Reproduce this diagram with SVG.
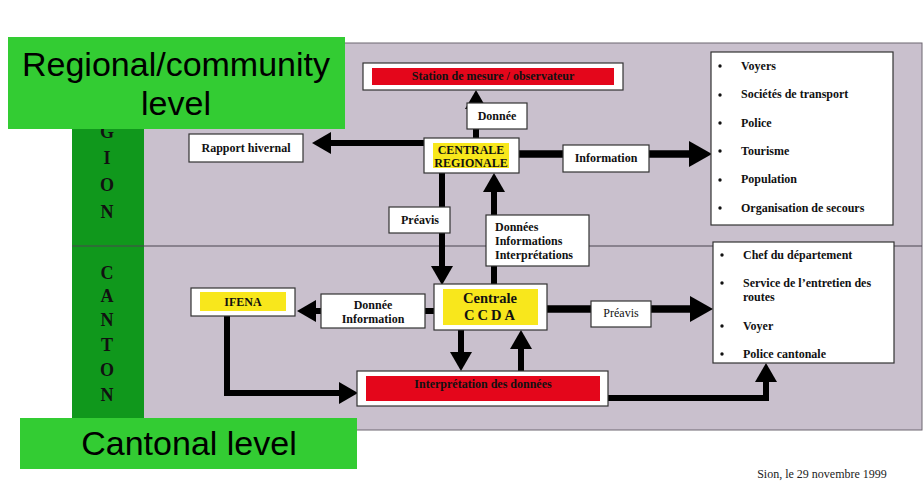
<svg xmlns="http://www.w3.org/2000/svg" width="924" height="481" viewBox="0 0 924 481">
<defs>
<marker id="ah" markerUnits="userSpaceOnUse" markerWidth="19" markerHeight="22" refX="0" refY="11" orient="auto" overflow="visible">
<path d="M0,0 L19,11 L0,22 Z" fill="#000"/>
</marker>
<marker id="ahL" markerUnits="userSpaceOnUse" markerWidth="23" markerHeight="26" refX="0" refY="13" orient="auto" overflow="visible">
<path d="M0,0 L23,13 L0,26 Z" fill="#000"/>
</marker>
<style>
.box{fill:#fff;stroke:#333;stroke-width:1.2}
.t{font-family:"Liberation Serif","Times New Roman",serif;font-weight:bold;font-size:12px;fill:#111}
.c{text-anchor:middle}
.ln{fill:none;stroke:#000;stroke-width:6}
.lnL{fill:none;stroke:#000;stroke-width:7.5}
.red{fill:#e4061b}
.yel{fill:#f8e71c}
.lab{font-family:"Liberation Sans",Arial,sans-serif;font-size:34px;fill:#000;text-anchor:middle}
.vl{font-family:"Liberation Serif","Times New Roman",serif;font-weight:bold;font-size:18px;fill:#111;text-anchor:middle}
</style>
</defs>
<rect width="924" height="481" fill="#fff"/>
<!-- background panel -->
<g id="panel">
<rect x="143" y="43" width="779" height="387" fill="#c9c0cd" stroke="#6d6670" stroke-width="1"/>
<rect x="72" y="43" width="72" height="387" fill="#10981c"/>
<line x1="72" y1="246" x2="922" y2="246" stroke="#4a4450" stroke-width="1.2"/>
<text class="vl" x="107" y="138">G</text>
<text class="vl" x="107" y="164">I</text>
<text class="vl" x="107" y="191">O</text>
<text class="vl" x="107" y="218">N</text>
<text class="vl" x="107" y="279">C</text>
<text class="vl" x="107" y="302">A</text>
<text class="vl" x="107" y="326">N</text>
<text class="vl" x="107" y="351">T</text>
<text class="vl" x="107" y="376">O</text>
<text class="vl" x="107" y="401">N</text>
</g>
<!-- connectors -->
<g id="connectors">
<line class="ln" x1="476" y1="140" x2="476" y2="109" marker-end="url(#ah)"/>
<line class="ln" x1="426" y1="143" x2="331" y2="143" marker-end="url(#ah)"/>
<line class="lnL" x1="519" y1="154" x2="689" y2="154" marker-end="url(#ahL)"/>
<line class="ln" x1="442" y1="173" x2="442" y2="266" marker-end="url(#ah)"/>
<line class="ln" x1="494" y1="284" x2="494" y2="192" marker-end="url(#ah)"/>
<line class="ln" x1="434" y1="311" x2="316" y2="311" marker-end="url(#ah)"/>
<line class="lnL" x1="547" y1="309" x2="690" y2="309" marker-end="url(#ahL)"/>
<line class="ln" x1="461" y1="330" x2="461" y2="352" marker-end="url(#ah)"/>
<line class="ln" x1="521" y1="371" x2="521" y2="349" marker-end="url(#ah)"/>
<polyline class="ln" points="227,316 227,393 339,393" marker-end="url(#ah)"/>
<polyline class="ln" points="608,398 766,398 766,382" marker-end="url(#ah)"/>
</g>
<!-- nodes -->
<g id="station">
<rect class="box" x="363" y="63" width="260" height="27"/>
<rect class="red" x="372" y="68" width="242" height="17"/>
<text class="t c" x="493" y="80" fill="#2a0000">Station de mesure / observateur</text>
</g>
<g id="donnee-top">
<rect class="box" x="467" y="103" width="60" height="26"/>
<text class="t c" x="497" y="120">Donnée</text>
</g>
<g id="centrale-regionale">
<rect class="box" x="424" y="138" width="95" height="35"/>
<rect class="yel" x="433" y="143" width="76" height="25"/>
<text class="t c" x="471" y="154">CENTRALE</text>
<text class="t c" x="471" y="167">REGIONALE</text>
</g>
<g id="rapport">
<rect class="box" x="189" y="134" width="114" height="28"/>
<text class="t c" x="246" y="152">Rapport hivernal</text>
</g>
<g id="information">
<rect class="box" x="563" y="145" width="86" height="27"/>
<text class="t c" x="606" y="162">Information</text>
</g>
<g id="list-region">
<rect class="box" x="711" y="52" width="182" height="173"/>
<g fill="#111"><circle cx="720" cy="66" r="1.7"/><circle cx="720" cy="95" r="1.7"/><circle cx="720" cy="123" r="1.7"/><circle cx="720" cy="151" r="1.7"/><circle cx="720" cy="180" r="1.7"/><circle cx="720" cy="208" r="1.7"/></g>
<text class="t" x="741" y="70">Voyers</text>
<text class="t" x="741" y="98">Sociétés de transport</text>
<text class="t" x="741" y="127">Police</text>
<text class="t" x="741" y="155">Tourisme</text>
<text class="t" x="741" y="183">Population</text>
<text class="t" x="741" y="212">Organisation de secours</text>
</g>
<g id="preavis-top">
<rect class="box" x="389" y="207" width="61" height="26"/>
<text class="t c" x="420" y="224">Préavis</text>
</g>
<g id="donnees-info">
<rect class="box" x="486" y="215" width="103" height="51"/>
<text class="t" x="495" y="231">Données</text>
<text class="t" x="495" y="245">Informations</text>
<text class="t" x="495" y="259">Interprétations</text>
</g>
<g id="centrale-ccda">
<rect class="box" x="434" y="284" width="113" height="46"/>
<rect class="yel" x="443" y="289" width="95" height="36"/>
<text class="t c" x="490" y="303" style="font-size:14.5px">Centrale</text>
<text class="t c" x="491" y="320" style="font-size:14.5px;letter-spacing:3px">CCDA</text>
</g>
<g id="donnee-information">
<rect class="box" x="321" y="294" width="104" height="34"/>
<text class="t c" x="373" y="309">Donnée</text>
<text class="t c" x="373" y="323">Information</text>
</g>
<g id="ifena">
<rect class="box" x="191" y="288" width="104" height="28"/>
<rect class="yel" x="200" y="292" width="86" height="19"/>
<text class="t c" x="243" y="306">IFENA</text>
</g>
<g id="preavis-bottom">
<rect class="box" x="591" y="301" width="60" height="26"/>
<text class="t c" x="621" y="317" style="font-weight:normal">Préavis</text>
</g>
<g id="interpretation">
<rect class="box" x="357" y="371" width="251" height="35"/>
<rect class="red" x="366" y="376" width="234" height="25"/>
<text class="t c" x="483" y="388" fill="#2a0000">Interprétation des données</text>
</g>
<g id="list-canton">
<rect class="box" x="713" y="242" width="181" height="121"/>
<g fill="#111"><circle cx="722" cy="255" r="1.7"/><circle cx="722" cy="283" r="1.7"/><circle cx="722" cy="326" r="1.7"/><circle cx="722" cy="354" r="1.7"/></g>
<text class="t" x="743" y="259">Chef du département</text>
<text class="t" x="743" y="287">Service de l’entretien des</text>
<text class="t" x="743" y="301">routes</text>
<text class="t" x="743" y="330">Voyer</text>
<text class="t" x="743" y="358">Police cantonale</text>
</g>
<!-- overlay labels -->
<g id="label-regional">
<rect x="8" y="37" width="337" height="92" fill="#33cc33"/>
<text class="lab" x="176" y="76">Regional/community</text>
<text class="lab" x="176" y="115">level</text>
</g>
<g id="label-cantonal">
<rect x="20" y="418" width="337" height="51" fill="#33cc33"/>
<text class="lab" x="189" y="455">Cantonal level</text>
</g>
<text x="822" y="478" style="font-family:'Liberation Serif','Times New Roman',serif;font-size:12px;fill:#222;text-anchor:middle">Sion, le 29 novembre 1999</text>
</svg>
